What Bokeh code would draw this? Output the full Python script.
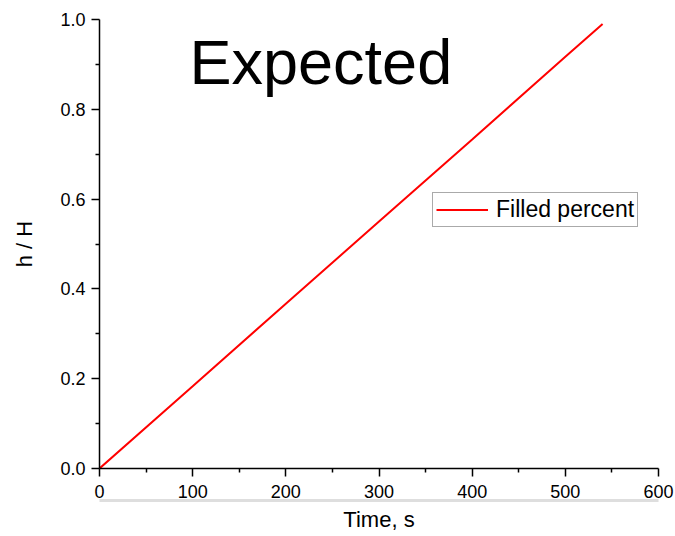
from bokeh.plotting import figure
from bokeh.models import Range1d, FixedTicker, Label, LinearAxis
from bokeh.embed import file_html
from bokeh.resources import INLINE

# Data
time_s = [0, 100, 200, 300, 400, 500, 540]
filled = [0.0, 0.183, 0.367, 0.55, 0.733, 0.917, 0.99]
x_ticks = [0, 100, 200, 300, 400, 500, 600]
y_ticks = [0.0, 0.2, 0.4, 0.6, 0.8, 1.0]
y_tick_labels = {0.0: "0.0", 0.2: "0.2", 0.4: "0.4", 0.6: "0.6", 0.8: "0.8", 1.0: "1.0"}
series_name = "Filled percent"
title_text = "Expected"
x_label = "Time, s"
y_label = "h / H"

FONT = "Liberation Sans"

p = figure(width=675, height=536, output_backend="svg", toolbar_location=None,
           x_range=Range1d(0, 600), y_range=Range1d(0, 1.0),
           min_border_left=99, min_border_right=17, min_border_top=19,
           min_border_bottom=68)
p.outline_line_color = None
p.grid.visible = False
p.background_fill_color = "white"
p.border_fill_color = "white"

p.line(time_s, filled, line_color="#ff0000", line_width=2, legend_label=series_name)

for ax in (p.xaxis[0], p.yaxis[0]):
    ax.axis_line_color = "black"
    ax.axis_line_width = 1.5
    ax.major_tick_line_color = "black"
    ax.major_tick_line_width = 1.5
    ax.minor_tick_line_color = "black"
    ax.minor_tick_line_width = 1.5
    ax.major_tick_out = 8
    ax.major_tick_in = 0
    ax.minor_tick_out = 4
    ax.minor_tick_in = 0
    ax.major_label_text_font = FONT
    ax.major_label_text_font_size = "18px"
    ax.major_label_text_color = "black"
    ax.axis_label_text_font = FONT
    ax.axis_label_text_font_size = "22px"
    ax.axis_label_text_font_style = "normal"
    ax.axis_label_text_color = "black"

p.xaxis.ticker = FixedTicker(ticks=x_ticks, minor_ticks=[v + 50 for v in x_ticks[:-1]])
p.yaxis.ticker = FixedTicker(ticks=y_ticks, minor_ticks=[round(v + 0.1, 2) for v in y_ticks[:-1]])
p.yaxis.major_label_overrides = y_tick_labels
p.yaxis.axis_label = y_label
p.xaxis.major_label_standoff = 8
p.yaxis.major_label_standoff = 6
p.yaxis.axis_label_standoff = 20

# separator line below the tick labels, carrying the x-axis title
label_axis = LinearAxis(ticker=FixedTicker(ticks=[]), axis_label=x_label,
                        axis_line_color="#dedede", axis_line_width=3,
                        major_tick_out=0, major_tick_in=0,
                        minor_tick_out=0, minor_tick_in=0,
                        major_label_standoff=0, axis_label_standoff=6,
                        axis_label_text_font=FONT, axis_label_text_font_size="22px",
                        axis_label_text_font_style="normal", axis_label_text_color="black")
p.add_layout(label_axis, "below")

leg = p.legend[0]
leg.location = (333, 241)
leg.label_text_font = FONT
leg.label_text_font_size = "23px"
leg.label_text_color = "black"
leg.glyph_width = 52
leg.glyph_height = 25
leg.label_height = 25
leg.label_standoff = 8
leg.padding = 3
leg.margin = 0
leg.spacing = 0
leg.border_line_color = "#555555"
leg.border_line_width = 1
leg.background_fill_color = "white"
leg.background_fill_alpha = 1.0

title = Label(x=96.6, y=0.905, text=title_text, text_font=FONT,
              text_font_size="63px", text_color="black", text_baseline="alphabetic")
p.add_layout(title)

open("out.html", "w").write(file_html(p, INLINE))
